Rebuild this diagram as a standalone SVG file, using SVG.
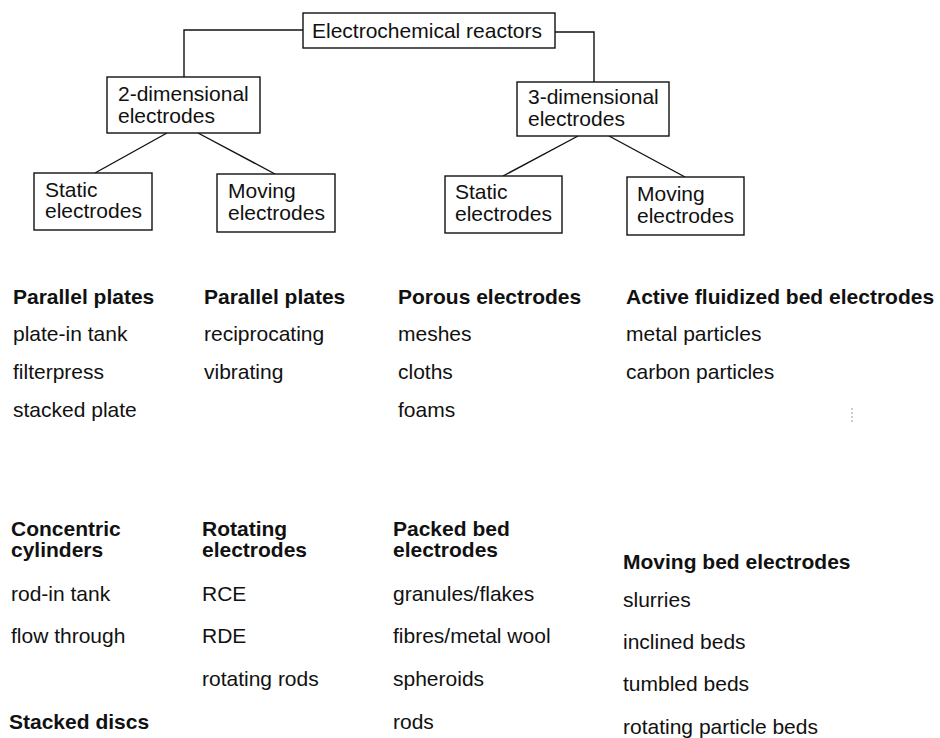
<svg xmlns="http://www.w3.org/2000/svg" width="940" height="738" viewBox="0 0 940 738">
<style>
.box{fill:#fff;stroke:#111;stroke-width:1.4}
.t{font-family:"Liberation Sans",Arial,Helvetica,sans-serif;font-size:21px;fill:#111}
.b{font-weight:bold}
.c{fill:none;stroke:#111;stroke-width:1.4}
</style>
<rect width="940" height="738" fill="#fff"/>
<g id="connectors">
<polyline class="c" points="303,30 184,30 184,77"/>
<polyline class="c" points="555,32 594,32 594,82"/>
<line class="c" x1="167" y1="133" x2="95" y2="173"/>
<line class="c" x1="198" y1="133" x2="275" y2="174"/>
<line class="c" x1="578" y1="136" x2="503" y2="176"/>
<line class="c" x1="609" y1="136" x2="685" y2="177"/>
</g>
<g id="root"><rect class="box" x="303" y="13" width="252" height="35"/><text class="t" x="312" y="38">Electrochemical reactors</text></g>
<g id="dim2"><rect class="box" x="107" y="77" width="153" height="56"/><text class="t" x="118" y="101">2-dimensional</text><text class="t" x="118" y="123">electrodes</text></g>
<g id="dim3"><rect class="box" x="517" y="82" width="152" height="54"/><text class="t" x="528" y="104">3-dimensional</text><text class="t" x="528" y="126">electrodes</text></g>
<g id="static2"><rect class="box" x="34" y="173" width="118" height="57"/><text class="t" x="45" y="197">Static</text><text class="t" x="45" y="218">electrodes</text></g>
<g id="moving2"><rect class="box" x="217" y="174" width="118" height="58"/><text class="t" x="228" y="198">Moving</text><text class="t" x="228" y="220">electrodes</text></g>
<g id="static3"><rect class="box" x="445" y="176" width="117" height="57"/><text class="t" x="455" y="199">Static</text><text class="t" x="455" y="221">electrodes</text></g>
<g id="moving3"><rect class="box" x="627" y="177" width="117" height="58"/><text class="t" x="637" y="201">Moving</text><text class="t" x="637" y="223">electrodes</text></g>
<g id="list-top">
<text class="t b" x="13" y="304">Parallel plates</text>
<text class="t" x="13" y="341">plate-in tank</text>
<text class="t" x="13" y="379">filterpress</text>
<text class="t" x="13" y="417">stacked plate</text>
<text class="t b" x="204" y="304">Parallel plates</text>
<text class="t" x="204" y="341">reciprocating</text>
<text class="t" x="204" y="379">vibrating</text>
<text class="t b" x="398" y="304">Porous electrodes</text>
<text class="t" x="398" y="341">meshes</text>
<text class="t" x="398" y="379">cloths</text>
<text class="t" x="398" y="417">foams</text>
<text class="t b" x="626" y="304">Active fluidized bed electrodes</text>
<text class="t" x="626" y="341">metal particles</text>
<text class="t" x="626" y="379">carbon particles</text>
</g>
<line x1="852" y1="408" x2="852" y2="422" stroke="#999" stroke-width="1" stroke-dasharray="2 2"/>
<g id="list-bottom">
<text class="t b" x="11" y="536">Concentric</text>
<text class="t b" x="11" y="557">cylinders</text>
<text class="t" x="11" y="601">rod-in tank</text>
<text class="t" x="11" y="643">flow through</text>
<text class="t b" x="9" y="729">Stacked discs</text>
<text class="t b" x="202" y="536">Rotating</text>
<text class="t b" x="202" y="557">electrodes</text>
<text class="t" x="202" y="601">RCE</text>
<text class="t" x="202" y="643">RDE</text>
<text class="t" x="202" y="686">rotating rods</text>
<text class="t b" x="393" y="536">Packed bed</text>
<text class="t b" x="393" y="557">electrodes</text>
<text class="t" x="393" y="601">granules/flakes</text>
<text class="t" x="393" y="643">fibres/metal wool</text>
<text class="t" x="393" y="686">spheroids</text>
<text class="t" x="393" y="729">rods</text>
<text class="t b" x="623" y="569">Moving bed electrodes</text>
<text class="t" x="623" y="607">slurries</text>
<text class="t" x="623" y="649">inclined beds</text>
<text class="t" x="623" y="691">tumbled beds</text>
<text class="t" x="623" y="734">rotating particle beds</text>
</g>
</svg>
